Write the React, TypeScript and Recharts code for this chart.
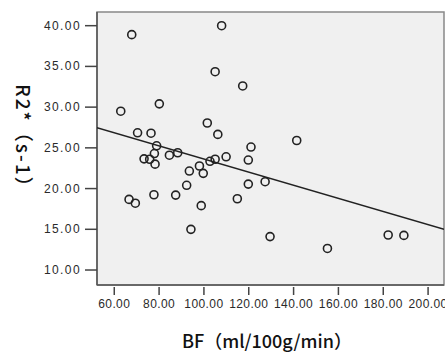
import React from 'react';
import { ScatterChart, Scatter, XAxis, YAxis, ReferenceArea } from 'recharts';

// BF (ml/100g/min) vs R2* (s-1)
const bfValues = [
  67.8, 107.9, 105.0, 117.3, 62.9, 80.1, 101.5, 70.4, 76.4, 106.2,
  141.4, 121.0, 78.9, 77.9, 88.3, 84.6, 73.3, 75.8, 78.2, 109.9,
  102.7, 105.0, 119.8, 93.5, 98.0, 99.7, 66.6, 69.4, 77.7, 87.4,
  92.3, 98.8, 94.2, 114.9, 119.8, 127.3, 129.5, 155.1, 182.2, 189.2,
];
const r2Values = [
  38.9, 40.0, 34.35, 32.6, 29.5, 30.4, 28.05, 26.85, 26.8, 26.65,
  25.9, 25.1, 25.25, 24.3, 24.4, 24.1, 23.65, 23.6, 23.0, 23.9,
  23.35, 23.6, 23.5, 22.15, 22.77, 21.87, 18.67, 18.2, 19.24, 19.2,
  20.4, 17.9, 14.99, 18.75, 20.55, 20.84, 14.1, 12.65, 14.3, 14.25,
];

// fit line end points
const fitX = [52.3, 207.1];
const fitY = [27.47, 15.0];

const xTicks = [60, 80, 100, 120, 140, 160, 180, 200];
const yTicks = [10, 15, 20, 25, 30, 35, 40];

const xDomain: [number, number] = [52.3, 207.1];
const yDomain: [number, number] = [8.16, 41.68];

const points = bfValues.map((bf, i) => ({ bf, r2: r2Values[i] }));
const fitLine = fitX.map((bf, i) => ({ bf, r2: fitY[i] }));

const tickFont = '"Liberation Sans", Arial, sans-serif';
const labelFont = '"Noto Sans CJK SC", sans-serif';

const XTick = (props: any) => {
  const { x, y, payload } = props;
  return (
    <g>
      <line x1={x} x2={x} y1={y + 2} y2={y + 10} stroke="#444" strokeWidth={1.5} />
      <text x={x} y={y + 23} textAnchor="middle" fontSize={12} fill="#2a2a2a"
        fontFamily={tickFont} letterSpacing={0.4}>
        {Number(payload.value).toFixed(2)}
      </text>
    </g>
  );
};

const YTick = (props: any) => {
  const { x, y, payload } = props;
  return (
    <g>
      <line x1={x + 1} x2={x + 13} y1={y} y2={y} stroke="#444" strokeWidth={1.5} />
      <text x={x - 3} y={y + 4} textAnchor="end" fontSize={12} fill="#2a2a2a"
        fontFamily={tickFont} letterSpacing={1.4}>
        {Number(payload.value).toFixed(2)}
      </text>
    </g>
  );
};

const App: React.FC = () => {
  return (
    <div style={{ position: 'absolute', left: 0, top: 0, background: '#fff' }}>
      <ScatterChart width={445} height={354} margin={{ top: 12, right: 1, bottom: 0, left: 0 }}>
        <XAxis
          type="number"
          dataKey="bf"
          domain={xDomain}
          ticks={xTicks}
          allowDataOverflow
          height={69}
          tickSize={0}
          tickMargin={0}
          tickLine={false}
          axisLine={{ stroke: '#555', strokeWidth: 1.5 }}
          tick={<XTick />}
          label={() => (
            <text x={267} y={348} textAnchor="middle" fontSize={18} fontWeight={500} fill="#111"
              fontFamily={labelFont}>
              BF（ml/100g/min）
            </text>
          )}
        />
        <YAxis
          type="number"
          dataKey="r2"
          domain={yDomain}
          ticks={yTicks}
          allowDataOverflow
          width={97}
          tickSize={13}
          tickMargin={0}
          tickLine={false}
          axisLine={{ stroke: '#555', strokeWidth: 1.5 }}
          tick={<YTick />}
          label={() => (
            <text x={0} y={0} transform="translate(16,141) rotate(90)" textAnchor="middle"
              fontSize={19} fontWeight={500} fill="#111" fontFamily={labelFont} letterSpacing={2}>
              R2*（s-1）
            </text>
          )}
        />
        <ReferenceArea x1={xDomain[0]} x2={xDomain[1]} y1={yDomain[0]} y2={yDomain[1]}
          fill="#f0f0f0" fillOpacity={1} stroke="#888" strokeWidth={1.5} />
        <Scatter
          data={fitLine}
          line={{ stroke: '#222', strokeWidth: 1.3 }}
          shape={() => null}
          isAnimationActive={false}
        />
        <Scatter
          data={points}
          isAnimationActive={false}
          shape={(p: any) => (
            <circle cx={p.cx} cy={p.cy} r={4} fill="none" stroke="#222" strokeWidth={1.6} />
          )}
        />
      </ScatterChart>
    </div>
  );
};

export default App;
